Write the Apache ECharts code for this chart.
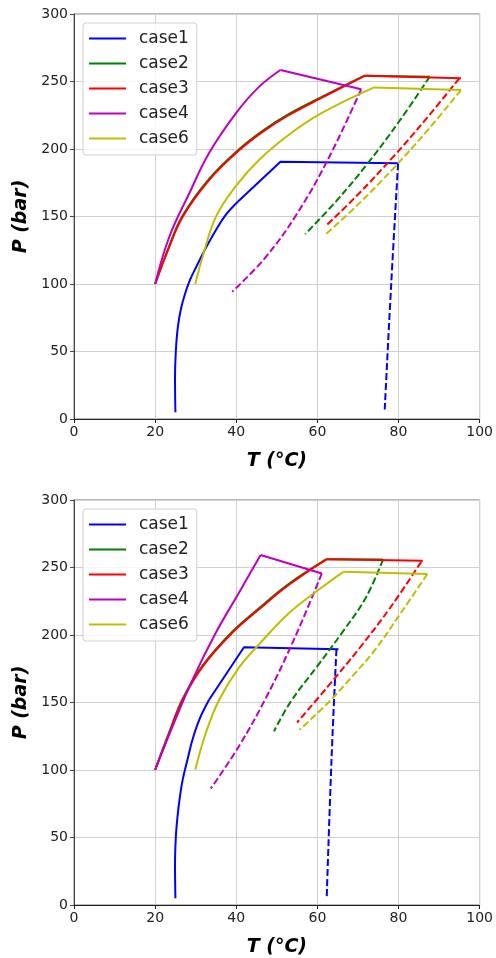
<!DOCTYPE html>
<html><head><meta charset="utf-8">
<script src="https://cdn.jsdelivr.net/npm/echarts@6/dist/echarts.min.js"></script>
<style>html,body{margin:0;padding:0;background:#fff}#c{width:496px;height:958px}</style>
</head><body><div id="c"></div>
<script>
// ---- Data (T in °C, P in bar) ----
const caseNames = ['case1','case2','case3','case4','case6'];
const caseColors = ['#0000ff','#008000','#ff0000','#bf00bf','#bfbf00'];
const xTicks = [0,20,40,60,80,100];
const yTicks = [0,50,100,150,200,250,300];

// ===== Top panel =====
const top_c1_curve = [[25,5],[24.9,30],[25.1,50],[25.6,68],[26.4,82],[27.4,93],[28.6,103],[30.2,113],[32.2,125],[35,140],[37.5,151.5],[40.5,161.3]];
const top_c1_line  = [[40.5,161.3],[50.9,190.6],[79.9,189.4]];
const top_c1_dash  = [[79.9,189.4],[78.2,100],[76.6,7]];

const top_c2_curve = [[20,100],[23.5,128.3],[26.8,150.7],[33.3,177.8],[40.7,199.8],[46.4,213.3],[52.9,225.8],[61.1,238.6],[71.7,254.3]];
const top_c2_line  = [[71.7,254.3],[87.7,253.6]];
const top_c2_dash  = [[87.7,253.6],[80.05,220],[72.4,189.3],[64.7,161.6],[57,137]];

const top_c3_curve = [[20,100],[23.5,127.6],[26.8,149.9],[33.3,177],[40.7,199],[46.4,212.5],[52.9,225],[61.1,238],[71.7,254.3]];
const top_c3_line  = [[71.7,254.3],[95.4,252.4]];
const top_c3_dash  = [[95,252.4],[86.7,221.9],[78.45,193.4],[70.2,166.9],[61.9,142.4]];

const top_c4_curve = [[20,100],[23.5,135],[28.4,167],[33.3,197],[39.9,226.4],[45.6,246],[50.9,258.5]];
const top_c4_line  = [[50.9,258.5],[70.8,244.2]];
const top_c4_dash  = [[70.8,244.2],[62.85,193.7],[54.9,151.7],[46.95,118.8],[39,94.3]];

const top_c6_curve = [[29.9,100],[31.7,120],[35,149.9],[39.9,172.5],[45.6,191.9],[52.9,210.4],[61,226.5],[74,245.6]];
const top_c6_line  = [[74,245.6],[95.4,243.7]];
const top_c6_dash  = [[95.4,243.7],[87,213.3],[78.65,185.4],[70.3,159.7],[61.9,136.3]];

// ===== Bottom panel =====
const bot_c1_curve = [[25,5],[24.9,30],[25.1,50],[25.5,65],[26.1,80],[26.8,92.9],[28,108],[29.2,122.4],[31,138],[33.3,152]];
const bot_c1_line  = [[33.3,152],[41.9,190.9],[65.2,189.5]];
const bot_c1_dash  = [[64.7,189.5],[63.5,108.9],[62.3,5.5]];

const bot_c2_curve = [[20,100],[23.5,128.2],[26.8,152.8],[31.7,177.4],[38.9,202.1],[45.6,219.8],[52.9,237.8],[62.3,256.2]];
const bot_c2_line  = [[62.3,256.2],[76.2,256]];
const bot_c2_dash  = [[76.2,256],[72,228],[66.4,203],[60,177],[53.4,150.5],[49.3,128.6]];

const bot_c3_curve = [[20,100],[23.5,127.4],[26.8,152],[31.7,176.6],[38.9,201.3],[45.6,219],[52.9,237],[62.3,256.2]];
const bot_c3_line  = [[62.3,256.2],[86,255]];
const bot_c3_dash  = [[85.6,254.2],[77.95,220.2],[70.3,190],[62.65,162.1],[55,135.2]];

const bot_c4_curve = [[20,100.3],[24.3,132.3],[29.2,166.8],[34.9,201.3],[40.7,231.5],[46,259.2]];
const bot_c4_line  = [[46,259.2],[61.1,245.6]];
const bot_c4_dash  = [[61.1,245.6],[54.25,196.8],[47.4,153.9],[40.55,117.1],[33.7,86.2]];

const bot_c6_curve = [[29.9,100.3],[32.5,127.4],[35.8,152],[40.7,176],[45.6,193],[52.9,216],[60.3,233.5],[66.4,246.8]];
const bot_c6_line  = [[66.4,246.8],[87.1,245.1]];
const bot_c6_dash  = [[87.1,245.1],[80.5,216],[74.2,189],[68.5,169],[62.7,150],[55.6,129.8]];

const topCurve = [top_c1_curve, top_c2_curve, top_c3_curve, top_c4_curve, top_c6_curve];
const topLine  = [top_c1_line,  top_c2_line,  top_c3_line,  top_c4_line,  top_c6_line];
const topDash  = [top_c1_dash,  top_c2_dash,  top_c3_dash,  top_c4_dash,  top_c6_dash];
const botCurve = [bot_c1_curve, bot_c2_curve, bot_c3_curve, bot_c4_curve, bot_c6_curve];
const botLine  = [bot_c1_line,  bot_c2_line,  bot_c3_line,  bot_c4_line,  bot_c6_line];
const botDash  = [bot_c1_dash,  bot_c2_dash,  bot_c3_dash,  bot_c4_dash,  bot_c6_dash];

const FONT = 'DejaVu Sans';
const chart = echarts.init(document.getElementById('c'), null, {renderer:'canvas'});

function makeXAxis(gi){
  return {gridIndex:gi, type:'value', min:xTicks[0], max:xTicks[xTicks.length-1], interval:xTicks[1]-xTicks[0],
    name:'T (°C)', nameLocation:'middle', nameGap:33,
    nameTextStyle:{fontFamily:FONT, fontSize:19, fontWeight:'bold', fontStyle:'italic', color:'#000'},
    axisLine:{show:true, onZero:false, lineStyle:{color:'#222', width:1}},
    axisTick:{show:true, length:4, lineStyle:{color:'#222'}},
    axisLabel:{fontFamily:FONT, fontSize:14, color:'#222', margin:6},
    splitLine:{show:true, lineStyle:{color:'#cfcfcf', width:1}}};
}
function makeYAxis(gi){
  return {gridIndex:gi, type:'value', min:yTicks[0], max:yTicks[yTicks.length-1], interval:yTicks[1]-yTicks[0],
    name:'P (bar)', nameLocation:'middle', nameGap:43,
    nameTextStyle:{fontFamily:FONT, fontSize:19, fontWeight:'bold', fontStyle:'italic', color:'#000'},
    axisLine:{show:true, onZero:false, lineStyle:{color:'#444', width:1}},
    axisTick:{show:true, length:4, lineStyle:{color:'#444'}},
    axisLabel:{fontFamily:FONT, fontSize:14, color:'#222', margin:6},
    splitLine:{show:true, lineStyle:{color:'#cfcfcf', width:1}}};
}
function makeLegend(top){
  return {left:83, top:top, orient:'vertical', data:caseNames,
    icon:'rect', itemWidth:37, itemHeight:2, itemGap:8,
    padding:[7,8,8,6], backgroundColor:'rgba(255,255,255,0.8)',
    borderColor:'#d0d0d0', borderWidth:1, borderRadius:3,
    textStyle:{fontFamily:FONT, fontSize:17, color:'#222', lineHeight:17, padding:[0,0,0,8]}};
}
const series = [];
function addPanel(curve, line, dash, gi){
  for(let i=0;i<caseNames.length;i++){
    const base = {type:'line', xAxisIndex:gi, yAxisIndex:gi, showSymbol:false, symbol:'none',
      color:caseColors[i], z:2+i, animation:false};
    series.push(Object.assign({}, base, {name:caseNames[i], data:curve[i], smooth:0.4,
      lineStyle:{width:2, color:caseColors[i], cap:'butt', join:'round'}}));
    series.push(Object.assign({}, base, {name:caseNames[i], data:line[i], smooth:false,
      lineStyle:{width:2, color:caseColors[i], cap:'butt', join:'round'}}));
    series.push(Object.assign({}, base, {name:caseNames[i], data:dash[i], smooth:0.4,
      lineStyle:{width:2, color:caseColors[i], type:[7,3]}}));
  }
}
addPanel(topCurve, topLine, topDash, 0);
addPanel(botCurve, botLine, botDash, 1);

chart.setOption({
  animation:false,
  backgroundColor:'#fff',
  grid:[
    {left:74, right:14, top:14, height:405, show:true, borderColor:'#777', borderWidth:1, backgroundColor:'transparent'},
    {left:74, right:14, top:500, height:406, show:true, borderColor:'#777', borderWidth:1, backgroundColor:'transparent'}
  ],
  xAxis:[makeXAxis(0), makeXAxis(1)],
  yAxis:[makeYAxis(0), makeYAxis(1)],
  legend:[makeLegend(23), makeLegend(509)],
  series:series
});
</script></body></html>
